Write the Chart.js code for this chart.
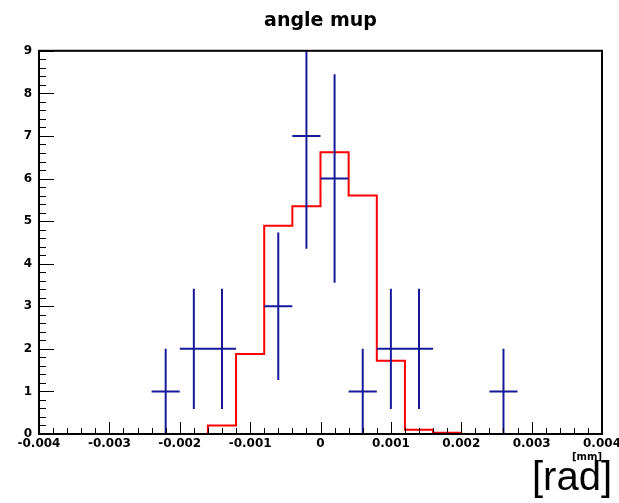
<!DOCTYPE html>
<html>
<head>
<meta charset="utf-8">
<script src="https://cdn.jsdelivr.net/npm/chart.js@4.4.0/dist/chart.umd.min.js"></script>
<style>
  html, body { margin: 0; padding: 0; background: #fff; }
  #wrap { position: relative; width: 619px; height: 503px; }
  #unit { position: absolute; left: 532px; top: 456px; font: 40px "Liberation Sans", Arial, sans-serif; line-height: 40px; color: #000; }
</style>
</head>
<body>
<div id="wrap">
  <canvas id="chart" width="619" height="503"></canvas>
  <div id="unit">[rad]</div>
</div>
<script>
// histogram bin edges (20 bins)
const binEdges = [-0.004, -0.0036, -0.0032, -0.0028, -0.0024, -0.002, -0.0016, -0.0012, -0.0008, -0.0004,
                  0, 0.0004, 0.0008, 0.0012, 0.0016, 0.002, 0.0024, 0.0028, 0.0032, 0.0036, 0.004];
// red histogram contents
const mcValues = [0, 0, 0, 0, 0, 0, 0.2, 1.88, 4.89, 5.35, 6.62, 5.6, 1.72, 0.1, 0.03, 0, 0, 0, 0, 0];
// blue data points (bin centres, counts, errors)
const dataX = [-0.0022, -0.0018, -0.0014, -0.0006, -0.0002, 0.0002, 0.0006, 0.001, 0.0014, 0.0026];
const dataY = [1, 2, 2, 3, 7, 6, 1, 2, 2, 1];
const dataErr = [1, 1.41, 1.41, 1.73, 2.65, 2.45, 1, 1.41, 1.41, 1];
const binHalf = 0.0002;

const xTickValues = [-0.004, -0.003, -0.002, -0.001, 0, 0.001, 0.002, 0.003, 0.004];
const xTickLabels = ['-0.004', '-0.003', '-0.002', '-0.001', '0', '0.001', '0.002', '0.003', '0.004'];
const yTickValues = [0, 1, 2, 3, 4, 5, 6, 7, 8, 9];
const yTickLabels = ['0', '1', '2', '3', '4', '5', '6', '7', '8', '9'];

const BLUE = '#18189a';
const RED = '#ff0000';

// step outline: each edge carries the value of the bin to its right
const histPoints = binEdges.map((e, i) => ({ x: e, y: i < mcValues.length ? mcValues[i] : 0 }));

const hBars = [], vBars = [];
dataX.forEach((x, i) => {
    hBars.push({ x: x - binHalf, y: dataY[i] }, { x: x + binHalf, y: dataY[i] }, { x: x, y: null });
    vBars.push({ x: x, y: dataY[i] - dataErr[i] }, { x: x, y: dataY[i] + dataErr[i] }, { x: x, y: null });
});

// ROOT style frame with inward ticks
const rootFrame = {
    id: 'rootFrame',
    afterDatasetsDraw(chart) {
        const { ctx, chartArea: a, scales: { x, y } } = chart;
        ctx.save();
        ctx.strokeStyle = '#000';
        ctx.lineWidth = 1;
        ctx.beginPath();
        for (let i = 0; i <= 40; i++) {
            const px = Math.round(x.getPixelForValue(-0.004 + i * 0.0002)) + 0.5;
            const len = i % 5 === 0 ? 12 : 6;
            ctx.moveTo(px, a.bottom);
            ctx.lineTo(px, a.bottom - len);
        }
        for (let i = 0; i <= 45; i++) {
            const py = Math.round(y.getPixelForValue(i * 0.2)) + 0.5;
            const len = i % 5 === 0 ? 15 : 7;
            ctx.moveTo(a.left, py);
            ctx.lineTo(a.left + len, py);
        }
        ctx.stroke();
        ctx.lineWidth = 2;
        ctx.strokeRect(a.left, a.top, a.right - a.left, a.bottom - a.top);
        ctx.restore();
    }
};

const tickFont = { family: 'DejaVu Sans', size: 12, weight: 'bold' };

new Chart(document.getElementById('chart'), {
    type: 'line',
    data: {
        datasets: [
            { data: hBars, borderColor: BLUE, borderWidth: 2, pointRadius: 0, fill: false, spanGaps: false },
            { data: vBars, borderColor: BLUE, borderWidth: 2, pointRadius: 0, fill: false, spanGaps: false },
            { data: histPoints, borderColor: RED, borderWidth: 2, pointRadius: 0, fill: false, stepped: true }
        ]
    },
    options: {
        responsive: false,
        animation: false,
        layout: { padding: { left: 0, right: 17, top: 0, bottom: 0 } },
        plugins: {
            legend: { display: false },
            tooltip: { enabled: false },
            title: {
                display: true,
                fullSize: false,
                text: 'angle mup',
                color: '#000',
                font: { family: 'DejaVu Sans', size: 19, weight: 'bold' },
                padding: { top: 10, bottom: 18 }
            }
        },
        scales: {
            x: {
                type: 'linear',
                min: -0.004,
                max: 0.004,
                grid: { display: false, drawTicks: false },
                border: { display: false },
                afterBuildTicks: s => { s.ticks = xTickValues.map(v => ({ value: v })); },
                afterFit: s => { s.height = 69; s.paddingLeft = 0; s.paddingRight = 0; },
                ticks: {
                    padding: 3,
                    color: '#000',
                    font: tickFont,
                    maxRotation: 0,
                    autoSkip: false,
                    callback: (v, i) => xTickLabels[i]
                },
                title: {
                    display: true,
                    text: '[mm]',
                    align: 'end',
                    color: '#000',
                    font: { family: 'DejaVu Sans', size: 10, weight: 'bold' },
                    padding: { top: 0, bottom: 40 }
                }
            },
            y: {
                min: 0,
                max: 9,
                grid: { display: false, drawTicks: false },
                border: { display: false },
                afterBuildTicks: s => { s.ticks = yTickValues.map(v => ({ value: v })); },
                afterFit: s => { s.width = 39; },
                ticks: {
                    padding: 7,
                    color: '#000',
                    font: tickFont,
                    autoSkip: false,
                    callback: (v, i) => yTickLabels[i]
                }
            }
        }
    },
    plugins: [rootFrame]
});
</script>
</body>
</html>
